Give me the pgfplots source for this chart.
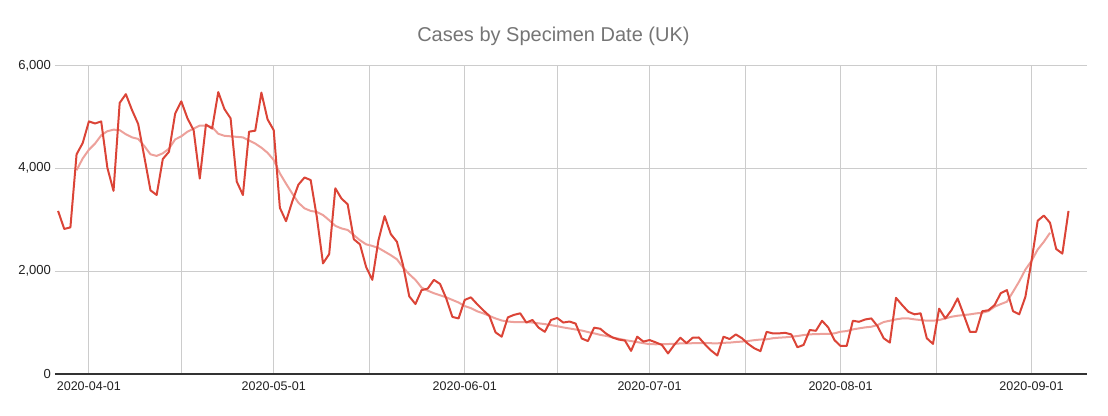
\documentclass[border=0pt]{standalone}
\usepackage{fontspec}
\setmainfont{Liberation Sans}
\usepackage{pgfplots}
\pgfplotsset{compat=1.18}
\definecolor{casered}{HTML}{DB4437}
\definecolor{trendred}{HTML}{EDA19B}
\definecolor{gridgray}{HTML}{CCCCCC}
\definecolor{titlegray}{HTML}{757575}

% day 0 = 2020-04-01
\pgfplotstableread{
day cases
-5 3170
-4 2820
-3 2850
-2 4270
-1 4490
0 4910
1 4870
2 4910
3 4010
4 3560
5 5270
6 5440
7 5130
8 4860
9 4220
10 3570
11 3480
12 4180
13 4320
14 5060
15 5300
16 4970
17 4740
18 3800
19 4850
20 4770
21 5480
22 5150
23 4970
24 3740
25 3480
26 4710
27 4730
28 5470
29 4950
30 4740
31 3230
32 2970
33 3350
34 3680
35 3820
36 3770
37 3050
38 2150
39 2330
40 3610
41 3410
42 3300
43 2620
44 2520
45 2080
46 1830
47 2600
48 3070
49 2720
50 2570
51 2110
52 1510
53 1360
54 1630
55 1660
56 1830
57 1750
58 1470
59 1110
60 1080
61 1440
62 1490
63 1360
64 1240
65 1130
66 810
67 725
68 1100
69 1150
70 1180
71 1000
72 1050
73 900
74 820
75 1050
76 1090
77 1000
78 1020
79 980
80 690
81 640
82 900
83 880
84 780
85 710
86 670
87 650
88 450
89 725
90 630
91 660
92 615
93 565
94 400
95 565
96 705
97 600
98 705
99 710
100 575
101 455
102 360
103 725
104 680
105 770
106 695
107 585
108 500
109 445
110 820
111 790
112 790
113 800
114 770
115 520
116 565
117 855
118 840
119 1035
120 905
121 660
122 545
123 545
124 1035
125 1015
126 1060
127 1080
128 930
129 695
130 610
131 1480
132 1340
133 1210
134 1160
135 1180
136 695
137 585
138 1270
139 1080
140 1240
141 1470
142 1150
143 820
144 820
145 1220
146 1240
147 1340
148 1570
149 1630
150 1220
151 1160
152 1500
153 2200
154 2980
155 3080
156 2940
157 2430
158 2340
159 3170
}\casedata

% 7-day moving average as drawn
\pgfplotstableread{
day avg
-2 3960
-1 4190
0 4360
1 4480
2 4640
3 4720
4 4750
5 4740
6 4660
7 4600
8 4570
9 4430
10 4270
11 4240
12 4290
13 4380
14 4560
15 4620
16 4710
17 4770
18 4830
19 4830
20 4800
21 4670
22 4630
23 4620
24 4610
25 4600
26 4540
27 4480
28 4400
29 4300
30 4160
31 3900
32 3700
33 3510
34 3330
35 3220
36 3170
37 3150
38 3090
39 2990
40 2880
41 2830
42 2800
43 2700
44 2600
45 2520
46 2490
47 2450
48 2380
49 2310
50 2230
51 2070
52 1940
53 1830
54 1680
55 1620
56 1570
57 1530
58 1490
59 1440
60 1390
61 1320
62 1280
63 1220
64 1180
65 1130
66 1080
67 1040
68 1020
69 1010
70 1010
71 1010
72 1000
73 985
74 970
75 950
76 930
77 905
78 885
79 865
80 845
81 815
82 790
83 760
84 740
85 710
86 685
87 660
88 640
89 620
90 600
91 580
92 578
93 580
94 583
95 585
96 595
97 597
98 598
99 602
100 603
101 598
102 596
103 606
104 610
105 622
106 630
107 642
108 658
109 670
110 675
111 695
112 706
113 713
114 725
115 738
116 757
117 770
118 777
119 778
120 779
121 790
122 822
123 835
124 867
125 887
126 906
127 919
128 952
129 1010
130 1036
131 1062
132 1081
133 1081
134 1062
135 1049
136 1036
137 1036
138 1049
139 1081
140 1113
141 1133
142 1146
143 1159
144 1178
145 1191
146 1223
147 1308
148 1359
149 1405
150 1600
151 1800
152 2030
153 2200
154 2420
155 2570
156 2745
}\avgdata

\begin{document}
\begin{tikzpicture}[x=1pt,y=1pt]
\begin{axis}[
  scale only axis,
  width=774pt, height=231.5pt,
  xmin=-5.5, xmax=162, ymin=0, ymax=6000,
  xtick={0,30,61,91,122,153},
  xticklabels={2020-04-01,2020-05-01,2020-06-01,2020-07-01,2020-08-01,2020-09-01},
  minor xtick={15,45.5,76,106.5,137.5},
  ytick={0,2000,4000,6000},
  xmajorgrids, xminorgrids, ymajorgrids,
  grid style={gridgray, line width=0.75pt},
  minor grid style={gridgray, line width=0.75pt},
  major tick length=0pt, minor tick length=0pt,
  axis x line*=bottom, axis y line*=left,
  x axis line style={-, draw=black!80, line width=1.1pt},
  y axis line style={draw=none},
  tick label style={text=black!87},
  xticklabel style={font=\fontsize{9.4}{10}\selectfont, yshift=-2.5pt},
  yticklabel style={font=\fontsize{9.8}{10}\selectfont, xshift=0.5pt},
  /pgf/number format/assume math mode=true,
  /pgf/number format/1000 sep={,},
  scaled y ticks=false,
  title={Cases by Specimen Date (UK)},
  title style={at={(0.483,1)}, anchor=base, yshift=12pt,
    font=\fontsize{15}{18}\selectfont, text=titlegray},
]
\addplot[trendred, line width=1.5pt, line join=round] table[x=day, y=avg] {\avgdata};
\addplot[casered, line width=1.5pt, line join=round] table[x=day, y=cases] {\casedata};
\end{axis}
\pgfresetboundingbox
\path (-41.25,-30.75) rectangle (789.75,280.5);
\end{tikzpicture}
\end{document}
